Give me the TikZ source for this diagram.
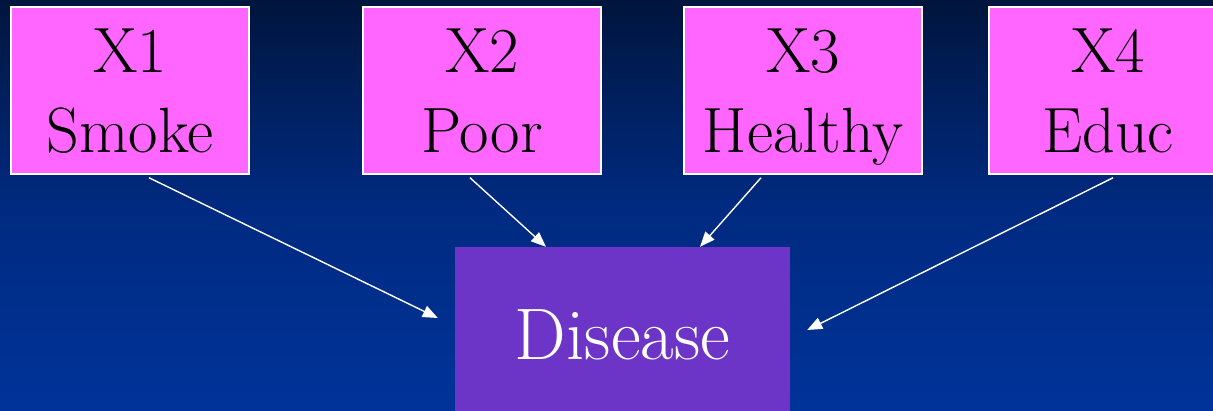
\documentclass[tikz,border=0pt]{standalone}
\usetikzlibrary{calc,arrows.meta}
\definecolor{bgtop}{HTML}{00153D}
\definecolor{bgmid}{HTML}{002A80}
\definecolor{bgbot}{HTML}{003399}
\definecolor{boxpink}{HTML}{FF66FF}
\definecolor{boxpurple}{HTML}{6C35C8}
\newcommand{\toptwo}[2]{\rule{0pt}{57pt}#1\\#2\rule[-12pt]{0pt}{12pt}}
\begin{document}
\begin{tikzpicture}[x=1pt,y=1pt,
  varbox/.style={draw=white, line width=1.5pt, fill=boxpink, minimum width=238pt, minimum height=167pt,
    inner sep=0pt, align=center, font=\fontsize{64}{80}\selectfont, text=black},
  outbox/.style={fill=boxpurple, minimum width=335pt, minimum height=176pt, inner sep=0pt,
    font=\fontsize{73}{80}\selectfont, text=white},
  link/.style={draw=white, line width=1.4pt, -{Triangle[length=15pt,width=12pt]}}]
\useasboundingbox (0,0) rectangle (1213,411);
\clip (0,0) rectangle (1213,411);
\shade[top color=bgtop, bottom color=bgbot, middle color=bgmid] (0,0) rectangle (1213,411);
\node[varbox] (x1) at (130,320.5) {\toptwo{X1}{Smoke}};
\node[varbox] (x2) at (482,320.5) {\toptwo{X2}{Poor}};
\node[varbox] (x3) at (803,320.5) {\toptwo{X3}{Healthy}};
\node[varbox] (x4) at (1108,320.5) {\toptwo{X4}{Educ}};
\node[outbox] (dis) at (622.5,76) {Disease};
\draw[link] ($(x1.south)+(19,-3)$) -- ($(dis.west)+(-17,17)$);
\draw[link] ($(x2.south)+(-12,-3)$) -- ($(dis.north)+(-76.5,0)$);
\draw[link] ($(x3.south)+(-42,-3)$) -- ($(dis.north)+(77.5,0)$);
\draw[link] ($(x4.south)+(5,-3)$) -- ($(dis.east)+(17,5)$);
\end{tikzpicture}
\end{document}
